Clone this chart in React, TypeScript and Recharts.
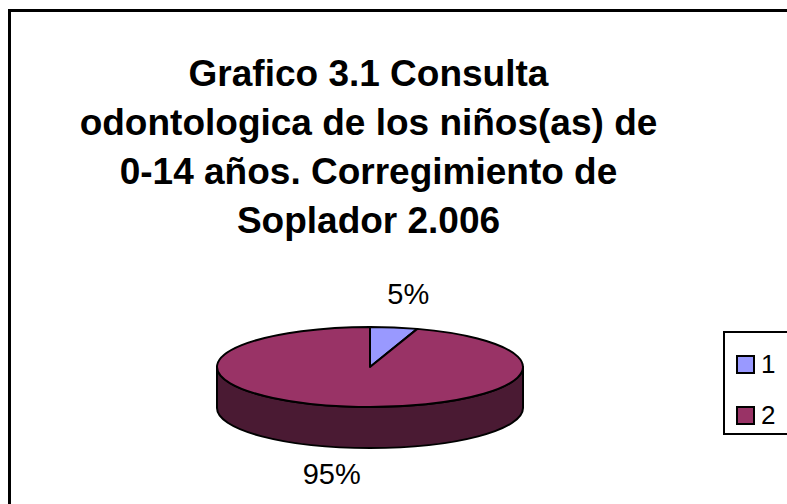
import { PieChart, Pie, Cell, Legend } from 'recharts'

const categories = ['1', '2']
const values = [5, 95]
const topColors = ['#9999FF', '#993366']
const sideColors = ['#4D4D80', '#4A1A33']
const titleLines = [
  'Grafico 3.1 Consulta',
  'odontologica de los niños(as) de',
  '0-14 años. Corregimiento de',
  'Soplador 2.006',
]

const data = categories.map((name, i) => ({ name, value: values[i] }))

// flattened "3D" look
const TILT = 0.262
const DEPTH = 41
const RAD = Math.PI / 180

const pt = (cx: number, cy: number, rx: number, ry: number, a: number, dy = 0) =>
  `${cx + rx * Math.cos(a * RAD)},${cy - ry * Math.sin(a * RAD) + dy}`

const Slice3D = (props: any) => {
  const { cx, cy, outerRadius, startAngle, endAngle, index } = props
  const rx = outerRadius
  const ry = outerRadius * TILT
  const hi = Math.max(startAngle, endAngle)
  const lo = Math.min(startAngle, endAngle)

  // front part of the rim lies where sin < 0, i.e. [-180, 0] + k*360
  const walls: string[] = []
  for (let k = -2; k <= 2; k++) {
    const a1 = Math.min(hi, k * 360)
    const a2 = Math.max(lo, k * 360 - 180)
    if (a1 - a2 > 0.01) {
      const large = a1 - a2 > 180 ? 1 : 0
      walls.push(
        `M${pt(cx, cy, rx, ry, a1)} A${rx},${ry} 0 ${large} 1 ${pt(cx, cy, rx, ry, a2)}` +
          ` L${pt(cx, cy, rx, ry, a2, DEPTH)} A${rx},${ry} 0 ${large} 0 ${pt(cx, cy, rx, ry, a1, DEPTH)} Z`
      )
    }
  }

  const large = hi - lo > 180 ? 1 : 0
  const top =
    `M${cx},${cy} L${pt(cx, cy, rx, ry, hi)} A${rx},${ry} 0 ${large} 1 ${pt(cx, cy, rx, ry, lo)} Z`

  return (
    <g>
      {walls.map((d, i) => (
        <path key={i} d={d} fill={sideColors[index]} stroke="#000" strokeWidth={2} strokeLinejoin="round" />
      ))}
      <path d={top} fill={topColors[index]} stroke="#000" strokeWidth={2} strokeLinejoin="round" />
    </g>
  )
}

const renderLabel = (props: any) => {
  const { cx, cy, midAngle, outerRadius, percent } = props
  const s = Math.sin(midAngle * RAD)
  const x = cx + 1.6 * outerRadius * Math.cos(midAngle * RAD)
  const y = cy - outerRadius * TILT * s + (s < 0 ? DEPTH + 26 : -33)
  return (
    <text x={x} y={y} textAnchor="middle" dominantBaseline="central" fill="#000"
      style={{ fontFamily: '"Liberation Sans", Arial, sans-serif', fontSize: 29 }}>
      {`${Math.round(percent * 100)}%`}
    </text>
  )
}

const renderLegend = () => (
  <div style={{ border: '2px solid #000', background: '#fff', width: 80, height: 104, boxSizing: 'border-box', padding: '18px 0 0 11px' }}>
    {categories.map((c, i) => (
      <div key={c} style={{ display: 'flex', alignItems: 'center', height: 26, marginBottom: 25 }}>
        <span style={{ width: 15, height: 15, background: topColors[i], border: '2px solid #000', display: 'inline-block' }} />
        <span style={{ marginLeft: 6, fontSize: 26, lineHeight: '26px' }}>{c}</span>
      </div>
    ))}
  </div>
)

const App = () => {
  return (
    <div style={{ position: 'absolute', left: 0, top: 0, width: 787, height: 504, overflow: 'hidden', background: '#fff', fontFamily: '"Liberation Sans", Arial, sans-serif' }}>
      <div style={{ position: 'absolute', left: 8, top: 9, width: 820, height: 540, border: '3px solid #000', boxSizing: 'border-box' }} />
      <div style={{ position: 'absolute', left: 0, top: 49, width: 737, textAlign: 'center', fontWeight: 'bold', fontSize: 37, lineHeight: '49px' }}>
        {titleLines.map((l) => (
          <div key={l}>{l}</div>
        ))}
      </div>
      <div style={{ position: 'absolute', left: 0, top: 0 }}>
        <PieChart width={787} height={504}>
          <Pie
            data={data}
            dataKey="value"
            nameKey="name"
            cx={365}
            cy={362}
            outerRadius={153}
            startAngle={90}
            endAngle={-270}
            shape={Slice3D}
            label={renderLabel}
            labelLine={false}
            isAnimationActive={false}
          >
            {data.map((d, i) => (
              <Cell key={d.name} fill={topColors[i]} />
            ))}
          </Pie>
          <Legend content={renderLegend} wrapperStyle={{ position: 'absolute', left: 723, top: 331, width: 80 }} />
        </PieChart>
      </div>
    </div>
  )
}

export default App
